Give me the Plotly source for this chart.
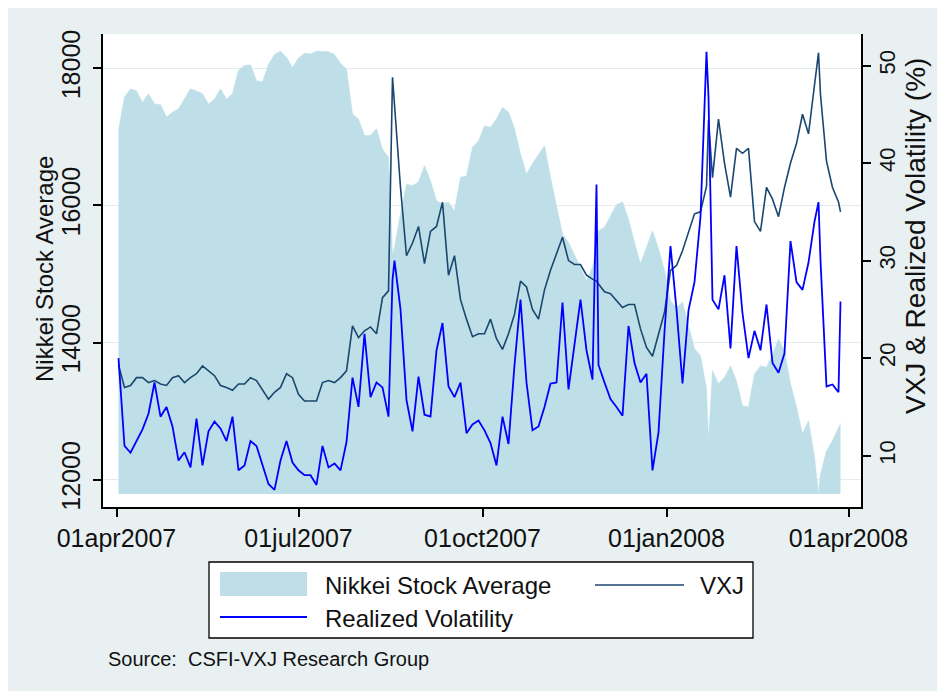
import plotly.graph_objects as go

# ---------------- data ----------------
dates = [
    "2007-04-02", "2007-04-05", "2007-04-08", "2007-04-11", "2007-04-14", "2007-04-17", "2007-04-20", "2007-04-23",
    "2007-04-26", "2007-04-29", "2007-05-02", "2007-05-05", "2007-05-08", "2007-05-11", "2007-05-14", "2007-05-17",
    "2007-05-20", "2007-05-23", "2007-05-26", "2007-05-29", "2007-06-01", "2007-06-04", "2007-06-07", "2007-06-10",
    "2007-06-13", "2007-06-16", "2007-06-19", "2007-06-22", "2007-06-25", "2007-06-28", "2007-07-01",
    "2007-07-04", "2007-07-07", "2007-07-10", "2007-07-13", "2007-07-16", "2007-07-19", "2007-07-22", "2007-07-25",
    "2007-07-28", "2007-07-31", "2007-08-03", "2007-08-06", "2007-08-09", "2007-08-12", "2007-08-15", "2007-08-17",
    "2007-08-18", "2007-08-21", "2007-08-24", "2007-08-27", "2007-08-30", "2007-09-02", "2007-09-05", "2007-09-08",
    "2007-09-11", "2007-09-14", "2007-09-17", "2007-09-20", "2007-09-23", "2007-09-26", "2007-09-29", "2007-10-02",
    "2007-10-05",
    "2007-10-08", "2007-10-11", "2007-10-14", "2007-10-17", "2007-10-20", "2007-10-23", "2007-10-26", "2007-10-29",
    "2007-11-01", "2007-11-04", "2007-11-07", "2007-11-10", "2007-11-13", "2007-11-16", "2007-11-19", "2007-11-22",
    "2007-11-25", "2007-11-27", "2007-11-28", "2007-12-01", "2007-12-04", "2007-12-07", "2007-12-10", "2007-12-13",
    "2007-12-16", "2007-12-19", "2007-12-22", "2007-12-25", "2007-12-28", "2007-12-31", "2008-01-03", "2008-01-06",
    "2008-01-09", "2008-01-12", "2008-01-15", "2008-01-18", "2008-01-21", "2008-01-22", "2008-01-24", "2008-01-27",
    "2008-01-30", "2008-02-02", "2008-02-05", "2008-02-08", "2008-02-11", "2008-02-14", "2008-02-17", "2008-02-20",
    "2008-02-23", "2008-02-26", "2008-02-29", "2008-03-03", "2008-03-06", "2008-03-09", "2008-03-12", "2008-03-15",
    "2008-03-17", "2008-03-18", "2008-03-21", "2008-03-24", "2008-03-27", "2008-03-28",
]

nikkei = [
    17100, 17580, 17700, 17670, 17500, 17630, 17480, 17470, 17290, 17360, 17410, 17550, 17700, 17670, 17630, 17480,
    17550, 17700, 17550, 17630, 17970, 18040, 18050, 17820, 17800, 18060, 18200, 18250, 18160, 18010, 18150,
    18220, 18210, 18250, 18240, 18240, 18200, 18070, 17990, 17330, 17260, 17020, 17020, 17120, 16820, 16700, 15270,
    15390, 15880, 16310, 16290, 16340, 16580, 16360, 16070, 16020, 16050, 15920, 16410, 16430, 16850, 16940, 17160,
    17140,
    17260, 17430, 17360, 17120, 16750, 16460, 16610, 16750, 16870, 16410, 15970, 15580, 15460, 15290, 15100, 14900,
    15100, 15440, 15630, 15680, 15850, 16010, 16050, 15800, 15460, 15150, 15390, 15630, 15370, 15050, 14610, 14510,
    14590, 14270, 13910, 13810, 13330, 12570, 13590, 13400, 13490, 13660, 13440, 13080, 13060, 13540, 13660, 13640,
    13830, 14050, 13880, 13400, 13060, 12670, 12860, 12330, 11790, 12080, 12420, 12570, 12740, 12820,
]

vxj = [
    19.3, 17.0, 17.2, 18.0, 18.0, 17.5, 17.7, 17.35, 17.2, 18.0, 18.2, 17.5, 18.0, 18.4, 19.2, 18.7,
    18.2, 17.2, 17.0, 16.7, 17.35, 17.35, 18.0, 17.7, 16.8, 15.8, 16.5, 17.0, 18.4, 18.0, 16.3,
    15.6, 15.6, 15.6, 17.5, 17.7, 17.5, 18.0, 18.7, 23.3, 22.1, 22.8, 23.2, 22.5, 26.2, 26.9, 48.8,
    46.0, 37.5, 30.5, 31.8, 33.5, 29.7, 33.0, 33.5, 36.0, 28.5, 30.5, 26.0, 24.0, 22.2, 22.5, 22.5,
    24.0,
    22.0, 20.9, 22.5, 24.5, 27.9, 27.3, 25.0, 24.0, 27.0, 29.0, 30.7, 32.4, 30.0, 29.6, 29.6, 28.5,
    28.1, 27.9, 27.6, 26.8, 26.6, 25.9, 25.2, 25.5, 25.5, 23.0, 21.1, 20.2, 22.5, 24.7, 29.0, 29.5,
    31.0, 32.8, 34.8, 35.0, 37.6, 44.4, 38.5, 44.5, 40.0, 36.5, 41.5, 41.0, 41.5, 34.0, 33.0, 37.5,
    36.3, 34.5, 37.5, 40.0, 42.0, 45.0, 43.0, 48.0, 51.3, 47.0, 40.2, 37.5, 36.0, 35.0,
]

realized_vol = [
    20.0, 11.0, 10.3, 11.5, 12.7, 14.3, 17.5, 14.0, 15.0, 13.0, 9.5, 10.35, 8.8, 13.8, 9.0, 12.5,
    13.5, 12.8, 11.5, 14.0, 8.5, 9.0, 11.5, 11.0, 9.0, 7.1, 6.5, 9.5, 11.5, 9.3, 8.5,
    8.0, 8.0, 7.0, 11.0, 8.8, 9.2, 8.5, 11.4, 18.0, 15.0, 22.5, 16.0, 17.5, 17.0, 14.0, 28.0,
    30.0, 25.0, 15.7, 12.5, 18.1, 14.2, 14.0, 20.8, 23.6, 17.1, 16.0, 17.5, 12.3, 13.2, 13.6, 12.6,
    11.3,
    9.0, 14.0, 11.2, 19.3, 26.0, 17.5, 12.6, 13.0, 15.0, 17.4, 17.5, 25.7, 16.8, 21.3, 26.0, 20.8,
    17.8, 37.8, 19.3, 17.5, 15.8, 15.0, 14.1, 23.3, 19.5, 17.5, 18.4, 8.5, 12.4, 22.7, 31.5, 25.0,
    17.4, 24.9, 27.8, 34.5, 51.4, 46.8, 26.0, 25.0, 28.5, 21.0, 31.5, 24.6, 20.0, 22.8, 20.8, 25.5,
    19.5, 18.5, 20.5, 32.0, 27.8, 27.0, 29.8, 34.0, 36.0, 30.0, 17.1, 17.3, 16.5, 25.8,
]

x_tick_dates = ["2007-04-01", "2007-07-01", "2007-10-01", "2008-01-01", "2008-04-01"]
x_tick_labels = ["01apr2007", "01jul2007", "01oct2007", "01jan2008", "01apr2008"]
left_ticks = [12000, 14000, 16000, 18000]
right_ticks = [10, 20, 30, 40, 50]

series_names = ["Nikkei Stock Average", "VXJ", "Realized Volatility"]
left_title = "Nikkei Stock Average"
right_title = "VXJ & Realized Volatility (%)"
source_note = "Source:  CSFI-VXJ Research Group"

# ---------------- styling ----------------
AREA = "#bedfe7"
NAVY = "#1a476f"
BLUE = "#0000ff"
BG = "#e8f0f2"
GRID = "#e2ecef"
FONT = "Liberation Sans, Arial, sans-serif"
TXT = "#111111"

base = min(nikkei)

fig = go.Figure()
fig.add_trace(go.Scatter(x=dates, y=[base] * len(dates), mode="lines",
                         line=dict(width=0, color=AREA), showlegend=False, hoverinfo="skip"))
fig.add_trace(go.Scatter(x=dates, y=nikkei, mode="lines", name=series_names[0],
                         line=dict(width=0.6, color=AREA),
                         fill="tonexty", fillcolor=AREA, showlegend=False))
fig.add_trace(go.Scatter(x=dates, y=vxj, yaxis="y2", mode="lines", name=series_names[1],
                         line=dict(width=1.6, color=NAVY), showlegend=False))
fig.add_trace(go.Scatter(x=dates, y=realized_vol, yaxis="y2", mode="lines", name=series_names[2],
                         line=dict(width=1.8, color=BLUE), showlegend=False))

axis_common = dict(ticks="outside", ticklen=8, tickwidth=1.5, tickcolor="black",
                   showline=True, linecolor="black", linewidth=1.5, zeroline=False)

# page body has an 8px offset; plot area sits at x 103..861, y 34..507 on screen
fig.update_layout(
    width=945, height=691,
    margin=dict(l=95, r=92, t=26, b=192),
    paper_bgcolor=BG, plot_bgcolor="white",
    font=dict(family=FONT, color=TXT, size=22),
    showlegend=False,
    xaxis=dict(type="date", range=["2007-03-25 06:00", "2008-04-07 06:00"],
               tickvals=x_tick_dates, ticktext=x_tick_labels, showgrid=False,
               tickfont=dict(size=25), **axis_common),
    yaxis=dict(range=[11602, 18500], tickvals=left_ticks, tickformat="d", tickangle=-90,
               showgrid=True, gridcolor=GRID, gridwidth=1.2,
               tickfont=dict(size=25), ticklabelstandoff=3,
               **axis_common),
    yaxis2=dict(overlaying="y", side="right", range=[4.74, 53.23], tickvals=right_ticks,
                tickangle=-90, showgrid=False, tickfont=dict(size=22), ticklabelstandoff=-2,
                **axis_common),
)

L, R, T, B = 103, 861, 34, 507
def px(x):
    return (x - L) / (R - L)
def py(y):
    return (B - y) / (B - T)

shapes = [
    dict(type="rect", xref="paper", yref="paper", x0=px(209), x1=px(753), y0=py(638), y1=py(562),
         line=dict(width=1.3, color="black"), fillcolor="white"),
    dict(type="rect", xref="paper", yref="paper", x0=px(220), x1=px(307), y0=py(596), y1=py(572),
         line=dict(width=0), fillcolor=AREA),
    dict(type="line", xref="paper", yref="paper", x0=px(595), x1=px(684), y0=py(585), y1=py(585),
         line=dict(width=1.6, color=NAVY)),
    dict(type="line", xref="paper", yref="paper", x0=px(220), x1=px(307), y0=py(617), y1=py(617),
         line=dict(width=1.8, color=BLUE)),
]

annotations = [
    dict(text=left_title, x=px(44), y=py(269), xref="paper", yref="paper", textangle=-90,
         xanchor="center", yanchor="middle", showarrow=False, font=dict(size=24, color=TXT)),
    dict(text=right_title, x=px(916), y=py(236), xref="paper", yref="paper", textangle=-90,
         xanchor="center", yanchor="middle", showarrow=False, font=dict(size=28, color=TXT)),
    dict(text=series_names[0], x=px(323), y=py(585), xref="paper", yref="paper",
         xanchor="left", yanchor="middle", showarrow=False, font=dict(size=24, color=TXT)),
    dict(text=series_names[1], x=px(698), y=py(585), xref="paper", yref="paper",
         xanchor="left", yanchor="middle", showarrow=False, font=dict(size=24, color=TXT)),
    dict(text=series_names[2], x=px(323), y=py(618), xref="paper", yref="paper",
         xanchor="left", yanchor="middle", showarrow=False, font=dict(size=24, color=TXT)),
    dict(text=source_note, x=px(106), y=py(659), xref="paper", yref="paper",
         xanchor="left", yanchor="middle", showarrow=False, font=dict(size=20, color=TXT)),
]

fig.update_layout(shapes=shapes, annotations=annotations)
fig.write_html("out.html")
